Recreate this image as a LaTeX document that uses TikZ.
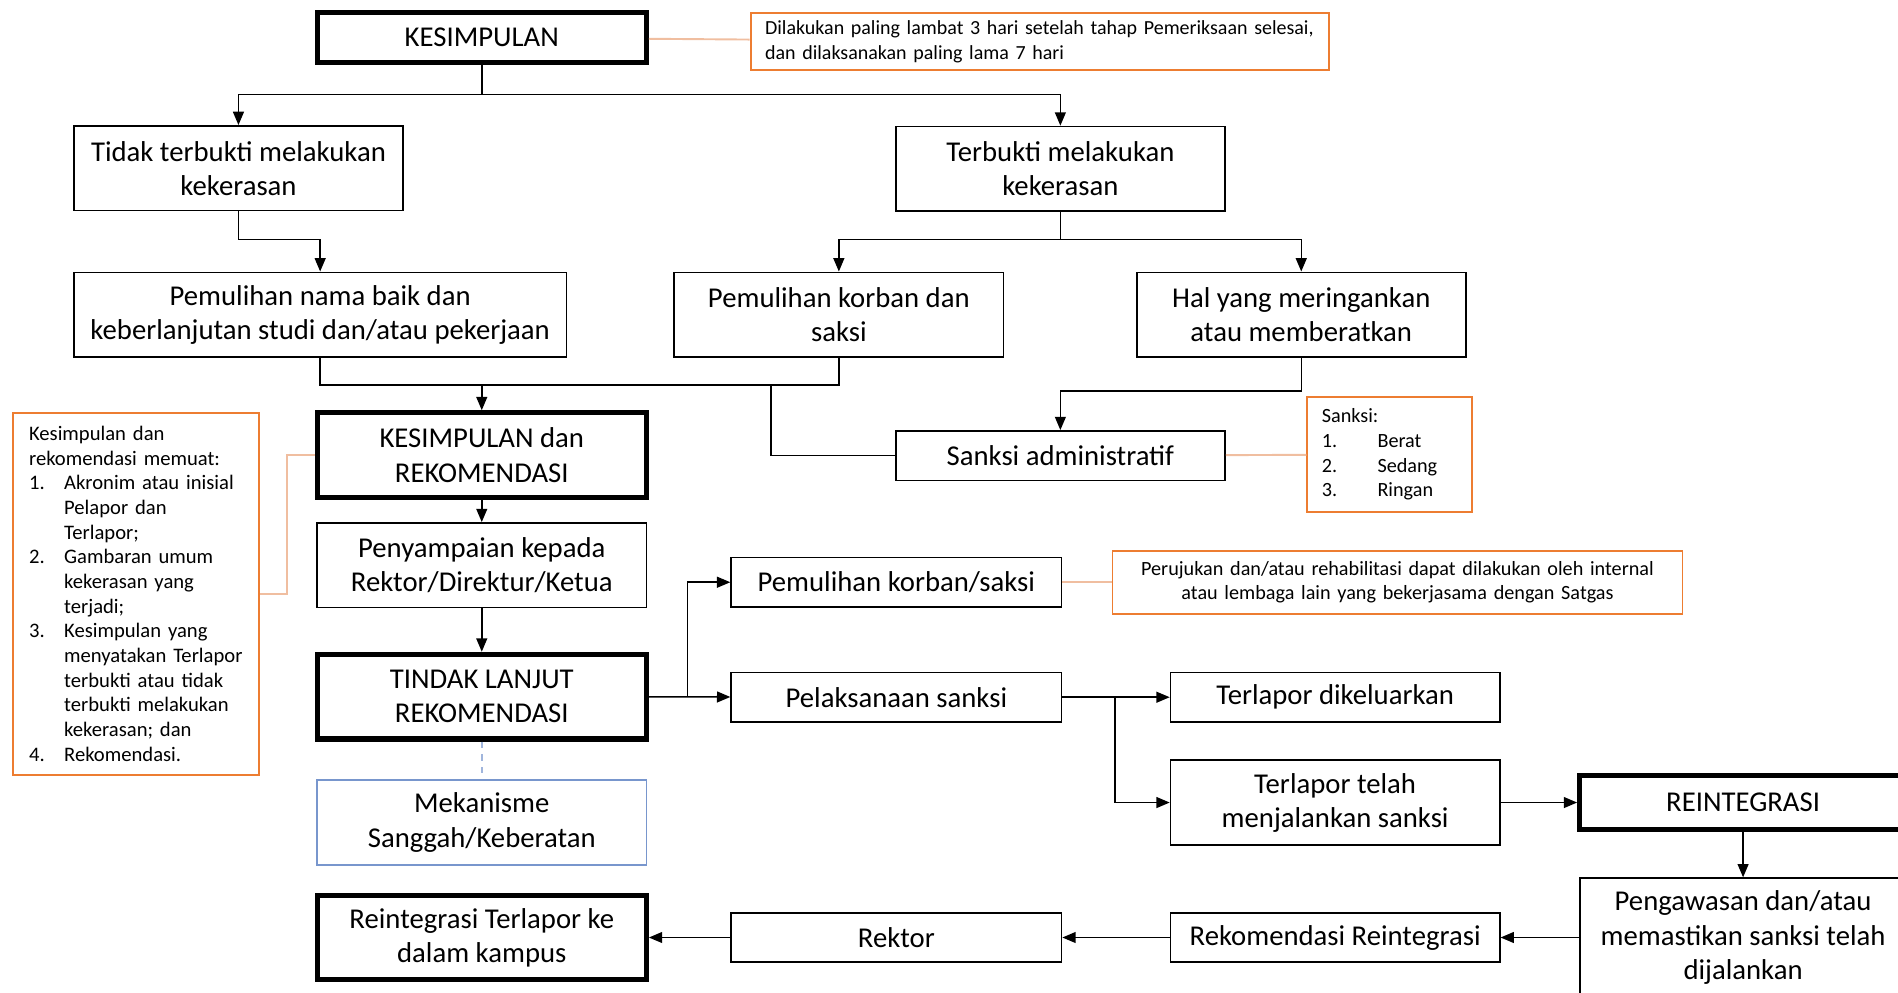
\documentclass[tikz,border=0pt]{standalone}
\usepackage{fontspec}
\setmainfont{Carlito}
\usetikzlibrary{arrows.meta}

\definecolor{notecol}{RGB}{237,125,49}
\definecolor{linkcol}{RGB}{240,190,160}
\definecolor{bluecol}{RGB}{120,150,205}

\newcommand{\itemnum}[1]{\makebox[0.58cm][l]{#1}}
\newcommand{\itemgap}{\hspace*{0.58cm}}

\begin{document}
\begin{tikzpicture}
[x=0.02cm,y=-0.02cm]
\tikzset{box/.style={draw,line width=0.8pt,align=center,inner sep=0pt,
    minimum width=5.44cm,minimum height=1.4cm,font=\fontsize{13.5}{16}\selectfont},
  slim/.style={box,minimum height=0.82cm},
  heavy/.style={line width=2.4pt},
  note/.style={draw=notecol,line width=0.9pt,inner sep=0pt,font=\fontsize{9.5}{11.6}\selectfont},
  arr/.style={-{Triangle[length=2.2mm,width=1.8mm]},line width=0.7pt},
  link/.style={line width=0.7pt},
  notelink/.style={draw=linkcol,line width=0.9pt}}
\useasboundingbox (0,0) rectangle (1568,820);

% top part
\node [box,heavy,minimum height=0.84cm] (kes) at (398,31) {KESIMPULAN};
\node [note,text width=9.08cm,inner xsep=0.24cm,minimum height=0.94cm,align=left,
  font=\fontsize{9.4}{12}\selectfont] (note1) at (859,34.5)
  {Dilakukan paling lambat 3 hari setelah tahap Pemeriksaan selesai,\\dan dilaksanakan paling lama 7 hari};
\node [box] (tidak) at (197,139) {Tidak terbukti melakukan\\kekerasan};
\node [box] (terbukti) at (876,139.5) {Terbukti melakukan\\kekerasan};
\node [box,minimum width=8.14cm] (nama) at (264.5,260) {Pemulihan nama baik dan\\keberlanjutan studi dan/atau pekerjaan};
\node [box] (korban) at (693,260) {Pemulihan korban dan\\saksi};
\node [box] (hal) at (1075,260) {Hal yang meringankan\\atau memberatkan};

% middle part
\node [box,heavy] (kr) at (398,376) {KESIMPULAN dan\\REKOMENDASI};
\node [slim] (sanksi) at (876,376.5) {Sanksi administratif};
\node [note,text width=2.24cm,inner xsep=0.24cm,minimum height=1.9cm,align=left] (sanknote) at (1148,375.5)
  {Sanksi:\\\itemnum{1.}\hspace{0.34cm}Berat\\\itemnum{2.}\hspace{0.34cm}Sedang\\\itemnum{3.}\hspace{0.34cm}Ringan};
\node [note,text width=3.54cm,inner xsep=0.26cm,minimum height=5.98cm,align=left,
  font=\fontsize{9.7}{11.6}\selectfont] (leftnote) at (112.5,490.5)
  {Kesimpulan dan\\rekomendasi memuat:\\
   \itemnum{1.}Akronim atau inisial\\\itemgap Pelapor dan\\\itemgap Terlapor;\\
   \itemnum{2.}Gambaran umum\\\itemgap kekerasan yang\\\itemgap terjadi;\\
   \itemnum{3.}Kesimpulan yang\\\itemgap menyatakan Terlapor\\\itemgap terbukti atau tidak\\\itemgap terbukti melakukan\\\itemgap kekerasan; dan\\
   \itemnum{4.}Rekomendasi.};
\node [box] (penyampaian) at (398,467) {Penyampaian kepada\\Rektor/Direktur/Ketua};
\node [box,heavy] (tindak) at (398,575.5) {TINDAK LANJUT\\REKOMENDASI};
\node [box,draw=bluecol,line width=0.7pt] (mekanisme) at (398,679.5) {Mekanisme\\Sanggah/Keberatan};
\node [slim,minimum width=5.46cm] (pkorban) at (740.5,481) {Pemulihan korban/saksi};
\node [note,text width=9.42cm,minimum height=1.04cm,align=center] (note3) at (1154.5,481)
  {Perujukan dan/atau rehabilitasi dapat dilakukan oleh internal\\atau lembaga lain yang bekerjasama dengan Satgas};
\node [slim,minimum width=5.46cm] (pelaksanaan) at (740.5,576) {Pelaksanaan sanksi};

% bottom part
\node [slim] (dikeluarkan) at (1103,576) {Terlapor dikeluarkan};
\node [box] (telah) at (1103,663) {Terlapor telah\\menjalankan sanksi};
\node [box,heavy,minimum width=5.4cm,minimum height=0.9cm] (reint) at (1440,663) {REINTEGRASI};
\node [box,minimum width=5.4cm,minimum height=1.96cm] (pengawasan) at (1440,774.5)
  {Pengawasan dan/atau\\memastikan sanksi telah\\dijalankan};
\node [slim] (rekrein) at (1103,774.5) {Rekomendasi Reintegrasi};
\node [slim,minimum width=5.46cm] (rektor) at (740.5,774.5) {Rektor};
\node [box,heavy] (kampus) at (398,774.5) {Reintegrasi Terlapor ke\\dalam kampus};

\coordinate (s1) at (398,78);
\coordinate (s2) at (197,198);
\coordinate (s3) at (876,198);
\coordinate (m1) at (398,318);
\coordinate (m2) at (637,318);
\coordinate (h1) at (876,323);
\coordinate (t1) at (568,576);
\coordinate (p1) at (921,576);
\coordinate (l1) at (237,376);

\draw [link] (kes) -- (s1);
\draw [arr] (s1) -| (tidak);
\draw [arr] (s1) -| (terbukti);
\draw [arr] (tidak) -- (s2) -| (nama);
\draw [link] (terbukti) -- (s3);
\draw [arr] (s3) -| (korban);
\draw [arr] (s3) -| (hal);
\draw [link] (nama.south) |- (m1) -| (korban.south);
\draw [arr] (m1) -- (kr);
\draw [link] (m2) |- (sanksi);
\draw [arr] (hal.south) |- (h1) -- (sanksi);

\foreach \from/\to in {kr/penyampaian,penyampaian/tindak,tindak/pelaksanaan,pelaksanaan/dikeluarkan,
  telah/reint,reint/pengawasan,pengawasan/rekrein,rekrein/rektor,rektor/kampus}
  \draw [arr] (\from) -- (\to);
\draw [arr] (t1) |- (pkorban);
\draw [arr] (p1) |- (telah);
\draw [draw=bluecol!70,line width=0.7pt,dashed] (tindak) -- (mekanisme);

% notes
\foreach \from/\to in {kes/note1,sanksi/sanknote,pkorban/note3}
  \draw [notelink] (\from) -- (\to);
\draw [notelink] (kr) -- (l1) |- (leftnote);
\end{tikzpicture}
\end{document}
